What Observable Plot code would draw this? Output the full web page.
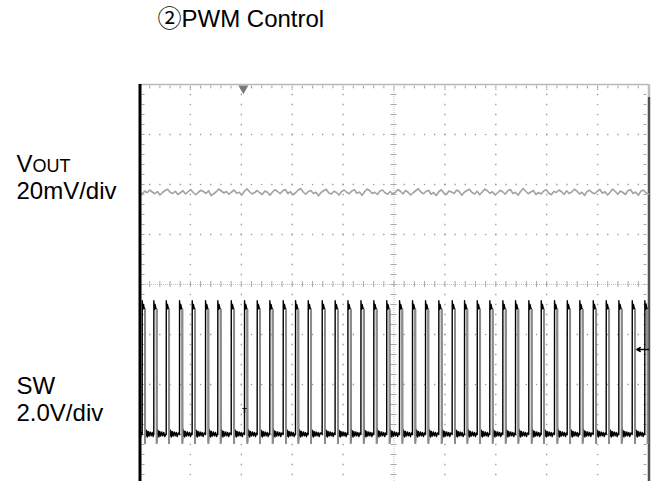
<!DOCTYPE html>
<html>
<head>
<meta charset="utf-8">
<script src="https://cdn.jsdelivr.net/npm/d3@7"></script>
<script src="https://cdn.jsdelivr.net/npm/@observablehq/plot@0.6"></script>
<style>
  html, body { margin: 0; padding: 0; background: #fff; }
  #chart svg { display: block; }
</style>
</head>
<body>
<div id="chart"></div>
<script>
// ---------------- data ----------------
const title = "②PWM Control";
const voutName = ["V", "OUT"];
const voutScale = "20mV/div";
const swName = "SW";
const swScale = "2.0V/div";

// Rising edges of the SW pulses, in horizontal divisions (0..10)
const swRise = [0.053, 0.281, 0.525, 0.786, 1.035, 1.297, 1.538, 1.802, 2.063, 2.312,
  2.560, 2.823, 3.065, 3.314, 3.589, 3.843, 4.094, 4.350, 4.603, 4.857,
  5.108, 5.363, 5.619, 5.880, 6.143, 6.385, 6.635, 6.882, 7.138, 7.387,
  7.648, 7.892, 8.153, 8.403, 8.650, 8.914, 9.169, 9.417, 9.680, 9.927];
const swPulseWidth = 0.056;           // div
const swHighV = 5.0;                  // V
const swUndershootV = -0.4;           // V
// pulse top shape: [offset from rise (div), volts]
const swTop = [[0.0, 0.0], [0.001, 5.35], [0.012, 5.0], [0.024, 5.2], [0.04, 5.05]];
// low-level ringing after each falling edge: [offset from fall (div), volts]
const swRing = [[0.002, -0.3], [0.01, 0.22], [0.02, -0.05], [0.03, 0.15], [0.045, -0.1],
  [0.06, 0.12], [0.08, -0.06], [0.1, 0.1], [0.12, -0.05], [0.14, 0.08], [0.16, -0.08], [0.18, 0.06]];

// VOUT ripple (mV), uniformly sampled across 10 divisions
const voutMv = [
  0.3, -0.5, 0.8, 0.1, 1.2, 0.4, -0.3, 0.6, -0.8, 0.2, 1.0, 1.5, 0.3, -0.2, 0.7, -0.6, 0.1, 0.9, -0.4, 0.5,
  1.4, 0.2, -0.7, 0.3, 1.1, 0.6, -0.2, 0.9, -1.0, -0.3, 0.5, 1.6, 0.8, 0.0, 0.6, -0.5, 0.4, 1.2, -0.1, 0.3,
  -0.8, 0.7, 1.7, 0.5, -0.4, 0.2, 1.0, 0.1, -0.6, 0.8, 0.3, -0.9, 0.4, 1.3, 0.6, -0.3, 0.9, 1.4, -0.2, 0.5,
  -0.7, 0.1, 1.1, 1.8, 0.4, -0.5, 0.6, 1.0, -0.2, 0.3, -1.1, 0.2, 0.9, 1.5, 0.0, -0.4, 0.7, 0.2, -0.8, 0.6,
  1.2, 0.3, -0.3, 0.8, 1.3, -0.1, 0.4, -0.9, 0.5, 1.6, 0.9, -0.2, 0.3, -0.6, 0.8, 1.2, 0.1, -0.5, 0.6, -0.3,
  0.2, 1.4, 0.7, -0.4, 1.0, 0.3, -0.8, 0.1, 0.9, 1.7, 0.4, -0.3, 0.6, 1.1, -0.5, 0.2, -1.0, 0.5, 1.3, 0.0,
  -0.6, 0.8, 0.4, -0.2, 1.2, 0.6, -0.9, 0.3, 1.0, 1.5, 0.2, -0.4, 0.7, -0.7, 0.4, 1.6, 0.9, -0.1, 0.5, -0.8,
  0.1, 1.1, 0.5, -0.5, 0.9, 1.4, -0.2, 0.3, -0.9, 0.6, 1.8, 0.7, -0.3, 0.4, 1.0, -0.6, 0.2, -0.4, 0.8, 1.3,
  0.0, -0.7, 0.6, 0.2, 1.2, 0.5, -0.6, 0.9, -0.2, 0.4, 1.5, 0.8, -0.4, 0.3, -1.0, 0.6, 1.1, 0.1, -0.3, 0.7,
  1.4, -0.1, 0.5, -0.8, 0.3, 1.6, 0.6, -0.5, 0.8, 0.2, -0.6, 1.0, 1.3, -0.2, 0.4, -0.9, 0.7, 1.2, 0.1, -0.4];

// channel settings
const voutMvPerDiv = 20, voutPosDiv = 1.83;
const swVPerDiv = 2, swPosDiv = -3;
// scope markers
const triggerTimeDiv = 2.04;
const triggerLevelDiv = -1.3;
const triggerTmarker = {x: 2.06, y: -2.52};

// ---------------- layout ----------------
const W = 656, H = 481;
const mL = 139, mR = 8, mT = 84, mB = 0;
const font = '"Liberation Sans", Arial, "Noto Sans CJK JP", sans-serif';

// ---------------- derived series ----------------
const swPts = [{t: 0, v: 0.05}, {t: 0.02, v: -0.1}, {t: 0.04, v: 0.08}];
swRise.forEach((r, i) => {
  const next = i + 1 < swRise.length ? swRise[i + 1] : 10;
  swTop.forEach(([o, v]) => swPts.push({t: r + o, v}));
  const f = r + swPulseWidth;
  swPts.push({t: f, v: swHighV});
  swRing.forEach(([o, v]) => { if (f + o < next - 0.008 && f + o <= 10) swPts.push({t: f + o, v}); });
  if (next < 10) swPts.push({t: next - 0.004, v: 0.03});
});
const swFalls = swRise.map(r => r + swPulseWidth).filter(t => t <= 10);
const swY = v => swPosDiv + v / swVPerDiv;

const voutPts = voutMv.map((mv, i) => ({t: i * 10 / (voutMv.length - 1), y: voutPosDiv + mv / voutMvPerDiv}));

// graticule
const minorX = d3.range(1, 50).map(i => i * 0.2);
const minorY = d3.range(-19, 20).map(i => i * 0.2);
const majX = [1, 2, 3, 4, 6, 7, 8, 9];
const majY = [-3, -2, -1, 1, 2, 3];
const gridDots = [];
majX.forEach(x => minorY.forEach(y => gridDots.push({x, y})));
majY.forEach(y => minorX.forEach(x => gridDots.push({x, y})));
// edge ticks (two dots deep)
const edgeDots = [];
minorX.forEach(x => { edgeDots.push({x, y: 3.965}); edgeDots.push({x, y: 3.935}); });
majX.concat([5]).forEach(x => edgeDots.push({x, y: 3.905}));
minorY.filter(y => y > -3.9).forEach(y => {
  edgeDots.push({x: 0.055, y}); edgeDots.push({x: 0.085, y});
  edgeDots.push({x: 9.915, y}); edgeDots.push({x: 9.945, y});
});

const label = (text, x, baseline, size) => Plot.text([text], {
  text: d => d, frameAnchor: "top-left", dx: x - mL, dy: baseline - mT,
  textAnchor: "start", lineAnchor: "bottom", fontSize: size, fill: "#000"
});

const chart = Plot.plot({
  width: W, height: H,
  marginLeft: mL, marginRight: mR, marginTop: mT, marginBottom: mB,
  x: {domain: [0, 10], axis: null},
  y: {domain: [-3.94, 4], axis: null},
  style: {fontFamily: font, background: "#fff", overflow: "visible"},
  marks: [
    // graticule
    Plot.dot(gridDots, {x: "x", y: "y", symbol: "square", r: 0.75, fill: "#9a9a9a", stroke: null}),
    Plot.dot(edgeDots, {x: "x", y: "y", symbol: "square", r: 0.7, fill: "#9a9a9a", stroke: null}),
    Plot.ruleY([0], {stroke: "#c4c4c4", strokeWidth: 1, strokeDasharray: "1 1"}),
    Plot.ruleX([5], {stroke: "#c4c4c4", strokeWidth: 1, strokeDasharray: "1 1"}),
    Plot.ruleX(minorX, {x: d => d, y1: -0.06, y2: 0.06, stroke: "#a8a8a8", strokeWidth: 1}),
    Plot.ruleY(minorY, {y: d => d, x1: 4.94, x2: 5.06, stroke: "#a8a8a8", strokeWidth: 1}),
    // frame
    Plot.ruleY([4], {stroke: "#b8b8b8", strokeWidth: 1.5}),
    Plot.ruleX([10], {y1: -3.94, y2: 3.74, stroke: "#505050", strokeWidth: 2.5, dx: 0.5}),
    Plot.ruleX([10], {y1: 3.74, y2: 4, stroke: "#bdbdbd", strokeWidth: 2.5, dx: 0.5}),
    Plot.ruleX([9.958], {y1: -0.38, y2: -1.28, stroke: "#9a9a9a", strokeWidth: 1.5}),
    // traces
    Plot.line(voutPts, {x: "t", y: "y", stroke: "#a2a2a2", strokeWidth: 1.6, curve: "linear"}),
    Plot.line(swPts, {x: "t", y: d => swY(d.v), stroke: "#000", strokeWidth: 1.4, curve: "linear"}),
    Plot.ruleX(swFalls, {x: d => d, y1: swY(swUndershootV), y2: swY(swHighV), stroke: "#8c8c8c", strokeWidth: 2}),
    Plot.ruleX([0], {stroke: "#000", strokeWidth: 3, dx: 0.5}),
    // markers
    Plot.dot([triggerTimeDiv], {x: d => d, y: 3.92, symbol: "triangle", rotate: 180, r: 3.7, fill: "#7a7a7a", stroke: null}),
    Plot.arrow([triggerLevelDiv], {x1: 10, x2: 9.77, y1: d => d, y2: d => d, stroke: "#000", strokeWidth: 1.5, headLength: 6}),
    Plot.text([triggerTmarker], {x: "x", y: "y", text: () => "T", fontSize: 8, fontWeight: "bold", fill: "#000"}),
    // text
    label(title, 157, 26.5, 24),
    label(voutName[0], 16, 171.7, 24),
    label(voutName[1], 32, 171.7, 18),
    label(voutScale, 16, 198.3, 24),
    label(swName, 16, 393.3, 24),
    label(swScale, 16, 420, 24)
  ]
});
document.getElementById("chart").appendChild(chart);
</script>
</body>
</html>
